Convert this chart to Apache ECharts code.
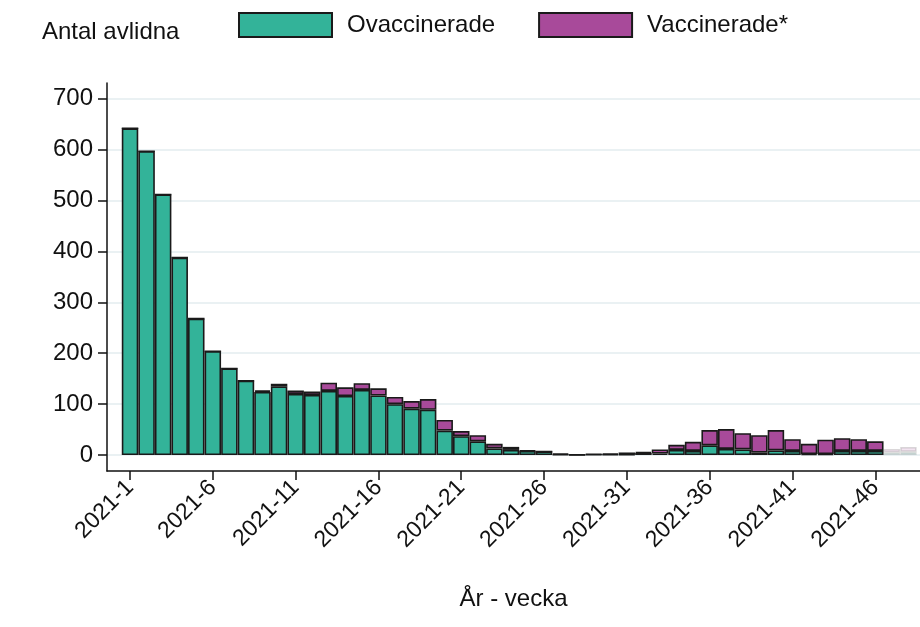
<!DOCTYPE html>
<html>
<head>
<meta charset="utf-8">
<script src="https://cdn.jsdelivr.net/npm/echarts@6/dist/echarts.min.js"></script>
<style>
  html, body { margin: 0; padding: 0; background: #fff; }
  #main { width: 920px; height: 627px; }
</style>
</head>
<body>
<div id="main"></div>
<script>
// veckor 2021 (vecka 47-48 preliminära, visas bleka)
var weeks = [1,2,3,4,5,6,7,8,9,10,11,12,13,14,15,16,17,18,19,20,21,22,23,24,
             25,26,27,28,29,30,31,32,33,34,35,36,37,38,39,40,41,42,43,44,45,46,47,48];
var ovaccinerade = [642,597,512,388,268,204,170,146,124,135,120,118,126,116,128,117,100,91,89,48,37,27,13,10,
                    8,7,1,0,1,1,1,4,3,10,8,19,12,11,5,9,8,2,2,8,8,8,5,6];
var vaccinerade = [0,0,0,0,0,0,0,0,3,5,7,7,16,17,13,14,14,15,21,21,10,12,9,6,
                   1,0,2,1,1,2,4,2,8,10,18,30,39,32,34,40,23,20,28,25,23,19,7,10];
var preliminaryFrom = 47;
var xTicks = [1,6,11,16,21,26,31,36,41,46];
var yTicks = [0,100,200,300,400,500,600,700];

var font = '"Liberation Sans", Arial, sans-serif';

// [värde, vecka] så att stacken läggs på y (encode nedan)
function toData(vals) {
	return weeks.map(function (w, i) {
		var item = { value: [vals[i], w] };
		if (w >= preliminaryFrom) item.itemStyle = { opacity: 0.15 };
		return item;
	});
}

var myChart = echarts.init(document.getElementById('main'));
var option = {
	animation: false,
	backgroundColor: '#fff',
	title: {
		text: 'Antal avlidna',
		left: 37,
		top: 15,
		textStyle: { fontFamily: font, fontSize: 24, fontWeight: 'normal', color: '#111' }
	},
	legend: {
		left: 238,
		top: 12,
		padding: 0,
		icon: 'rect',
		itemWidth: 93,
		itemHeight: 24,
		itemGap: 43,
		textStyle: { fontFamily: font, fontSize: 24, color: '#111', padding: [0, 0, 0, 10] },
		data: ['Ovaccinerade', 'Vaccinerade*']
	},
	grid: {
		left: 107,
		right: 0,
		top: 83,
		bottom: 156,
		containLabel: false
	},
	xAxis: {
		type: 'value',
		min: -0.39,
		max: 48.7,
		name: 'År - vecka',
		nameLocation: 'middle',
		nameGap: 116,
		nameTextStyle: { fontFamily: font, fontSize: 24, color: '#111' },
		axisLine: { show: true, onZero: false, lineStyle: { color: '#111', width: 1.5 } },
		axisTick: { show: true, length: 9, customValues: xTicks, lineStyle: { color: '#111', width: 1.5 } },
		axisLabel: {
			customValues: xTicks,
			rotate: 45,
			margin: 13,
			fontFamily: font,
			fontSize: 23,
			color: '#111',
			formatter: function (v) { return '2021-' + v; }
		},
		splitLine: { show: false }
	},
	yAxis: {
		type: 'value',
		min: -31.4,
		max: 731,
		axisLine: { show: true, onZero: false, lineStyle: { color: '#111', width: 1.5 } },
		axisTick: { show: true, length: 9, customValues: yTicks, lineStyle: { color: '#111', width: 1.5 } },
		axisLabel: {
			customValues: yTicks,
			margin: 14,
			fontFamily: font,
			fontSize: 24,
			color: '#111'
		},
		splitLine: { show: true, lineStyle: { color: '#eaf1f3', width: 2 } }
	},
	series: [
		{
			name: 'Ovaccinerade',
			type: 'bar',
			stack: 'total',
			barWidth: 16.5,
			encode: { x: 1, y: 0 },
			itemStyle: { color: '#33b399', borderColor: '#1a1a1a', borderWidth: 1.6 },
			data: toData(ovaccinerade)
		},
		{
			name: 'Vaccinerade*',
			type: 'bar',
			stack: 'total',
			barWidth: 16.5,
			encode: { x: 1, y: 0 },
			itemStyle: { color: '#a84a9a', borderColor: '#1a1a1a', borderWidth: 1.6 },
			data: toData(vaccinerade)
		}
	]
};
myChart.setOption(option);
</script>
</body>
</html>
